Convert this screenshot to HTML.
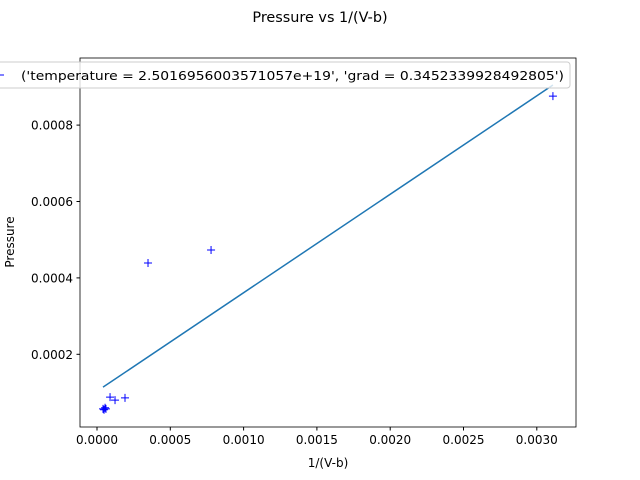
<!DOCTYPE html>
<html><head><meta charset="utf-8"><style>
body{margin:0;background:#fff;}
svg{display:block;font-family:"DejaVu Sans","Liberation Sans",sans-serif;}
</style></head><body>
<svg id="c" width="640" height="480">
<text x="320" y="22" text-anchor="middle" font-size="14.4">Pressure vs 1/(V-b)</text>
<text x="328" y="467" text-anchor="middle" font-size="12">1/(V-b)</text>
<text transform="translate(14,242) rotate(-90)" text-anchor="middle" font-size="12">Pressure</text>
<g id="g"></g>
</svg>
<script>
const xs=[0.000041,0.000061,0.000089,0.000123,0.000191,0.000348,0.000778,0.00311,0.000048,0.000055];
const ys=[0.000057,0.000057,0.000088,0.00008,0.000086,0.000439,0.000473,0.000876,0.000055,0.00006];
const lineX=[0.000041,0.00311];
const lineY=[0.000114,0.000905];
const xTicks=[0,0.0005,0.001,0.0015,0.002,0.0025,0.003];
const yTicks=[0.0002,0.0004,0.0006,0.0008];
const L=80,R=576,T=58,B=427;
function sx(v){return 97+v/0.0005*73.3;}
function sy(v){return 430.7-v/0.0002*76.4;}
const NS="http://www.w3.org/2000/svg",g=document.getElementById('g');
function mk(t,a){const e=document.createElementNS(NS,t);for(const k in a)e.setAttribute(k,a[k]);g.appendChild(e);return e;}
xTicks.forEach(v=>{const x=sx(v);
const t=mk('line',{x1:x,x2:x,y1:B,y2:B+3.5,stroke:'#000'});


const s=mk('text',{x:x,y:B+17,'text-anchor':'middle','font-size':12});s.textContent=v.toFixed(4);

});
yTicks.forEach(v=>{const y=sy(v);
const t=mk('line',{x1:L-3.5,x2:L,y1:y,y2:y,stroke:'#000'});


const s=mk('text',{x:L-7,y:y+4.5,'text-anchor':'end','font-size':12});s.textContent=v.toFixed(4);

});
const fl=mk('line',{x1:sx(lineX[0]),y1:sy(lineY[0]),x2:sx(lineX[1]),y2:sy(lineY[1]),stroke:'#1f77b4','stroke-width':1.5});


xs.forEach((v,i)=>{const x=sx(v),y=sy(ys[i]);
const p=mk('path',{d:`M${x-4},${y}H${x+4}M${x},${y-4}V${y+4}`,stroke:'#0000ff','stroke-width':1});

});
const fr=mk('rect',{x:L,y:T,width:R-L,height:B-T,fill:'none',stroke:'#000','stroke-width':0.8});


const lb=mk('rect',{x:-5,y:62,width:575,height:26,rx:3,fill:'#fff','fill-opacity':0.8,stroke:'#ccc'});


const lm=mk('path',{d:'M-2,75H4',stroke:'#0000ff'});


const lt=mk('text',{x:21,y:80,'font-size':12.5,textLength:543,lengthAdjust:'spacingAndGlyphs'});lt.textContent="('temperature = 2.5016956003571057e+19', 'grad = 0.3452339928492805')";


</script>
</body></html>
